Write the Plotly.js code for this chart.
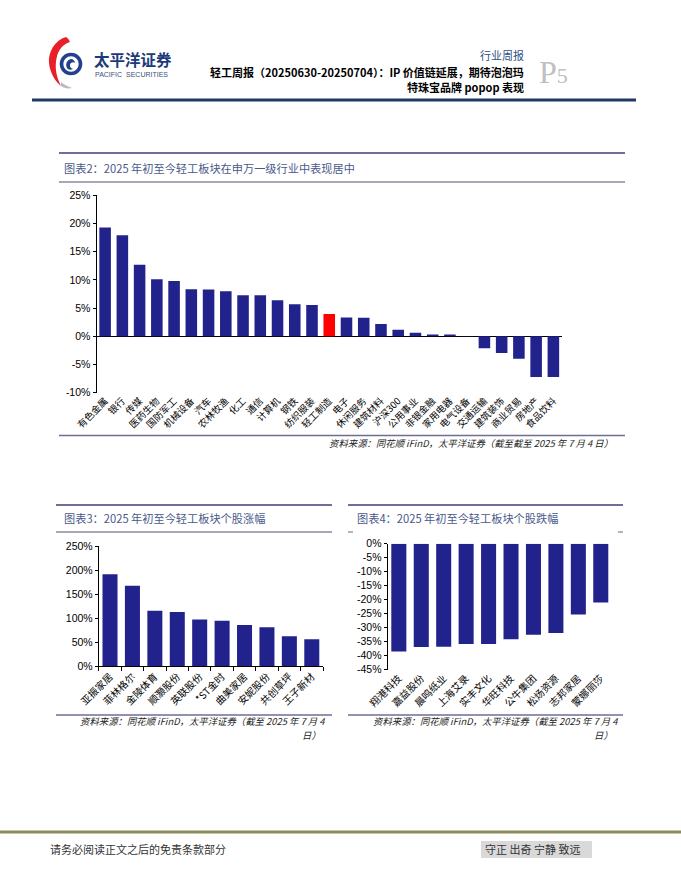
<!DOCTYPE html>
<html><head><meta charset="utf-8">
<script src="https://cdn.plot.ly/plotly-3.0.1.min.js"></script>
<style>html,body{margin:0;padding:0;background:#fff;}#c{width:681px;height:881px;}</style>
</head><body><div id="c"></div>
<script>
// ---------- data ----------
const industryNames = ['有色金属','银行','传媒','医药生物','国防军工','机械设备','汽车','农林牧渔','化工','通信','计算机','钢铁','纺织服装','轻工制造','电子','休闲服务','建筑材料','沪深300','公用事业','非银金融','家用电器','电气设备','交通运输','建筑装饰','商业贸易','房地产','食品饮料'];
const industryReturns = [19.3,17.9,12.7,10.1,9.8,8.35,8.3,8.0,7.3,7.3,6.4,5.7,5.55,3.95,3.35,3.3,2.2,1.15,0.65,0.3,0.3,0.05,-2.1,-2.95,-4.0,-7.2,-7.2];
const highlightName = '轻工制造';

const gainerNames = ['亚振家居','菲林格尔','金陵体育','顺灏股份','英联股份','*ST金时','曲美家居','安妮股份','共创草坪','王子新材'];
const gainerReturns = [191,167,115,112.5,97,94.5,85.5,80.5,62,55.5];

const loserNames = ['翔港科技','嘉益股份','晨鸣纸业','上海艾录','实丰文化','华旺科技','公牛集团','松炀资源','志邦家居','蒙娜丽莎'];
const loserReturns = [-38.5,-36.9,-36.8,-35.8,-35.8,-34.1,-32.5,-31.9,-25.3,-21.0];

const yTicks1 = [-10,-5,0,5,10,15,20,25];
const yTicks2 = [0,50,100,150,200,250];
const yTicks3 = [-45,-40,-35,-30,-25,-20,-15,-10,-5,0];

// ---------- helpers ----------
const W = 681, H = 881;
const px = x => x / W;
const py = y => 1 - y / H;
const BAR = '#22228c';
const CJK = '"Noto Sans CJK SC", "Noto Sans", sans-serif';
const ARIAL = '"Liberation Sans", Arial, sans-serif';

function hline(x0, x1, y, color, w) {
  return {type:'line', xref:'paper', yref:'paper', x0:px(x0), x1:px(x1), y0:py(y), y1:py(y), line:{color:color, width:w}};
}
function txt(x, y, text, opt) {
  opt = opt || {};
  return {xref:'paper', yref:'paper', x:px(x), y:py(y), text:text, showarrow:false,
    xanchor:opt.xa || 'left', yanchor:'middle',
    font:{family:opt.family || CJK, size:opt.size || 11, color:opt.color || '#000', weight:opt.weight || 'normal', style:opt.style || 'normal'}};
}
function pathStr(cmds) {
  let out = [];
  for (const c of cmds) {
    const pts = [];
    for (let i = 1; i < c.length; i += 2) pts.push(px(c[i]).toFixed(5) + ',' + py(c[i+1]).toFixed(5));
    out.push(c[0] + pts.join(' '));
  }
  return out.join(' ');
}

// ---------- traces ----------
const colors1 = industryNames.map(n => n === highlightName ? '#ff0000' : BAR);
const traces = [
  {type:'bar', x:industryNames, y:industryReturns, marker:{color:colors1, line:{width:0}}, xaxis:'x', yaxis:'y', hoverinfo:'skip'},
  {type:'bar', x:gainerNames, y:gainerReturns, marker:{color:BAR, line:{width:0}}, xaxis:'x2', yaxis:'y2', hoverinfo:'skip'},
  {type:'bar', x:loserNames, y:loserReturns, marker:{color:BAR, line:{width:0}}, xaxis:'x3', yaxis:'y3', hoverinfo:'skip'}
];

const catFont = s => ({family:CJK, size:s, color:'#000'});
const numFont = {family:ARIAL, size:10.5, color:'#000'};

const layout = {
  width:W, height:H, margin:{l:0,r:0,t:0,b:0}, paper_bgcolor:'#fff', plot_bgcolor:'rgba(0,0,0,0)',
  showlegend:false, bargap:0.33,
  // chart 1
  xaxis:{domain:[px(96.5), px(562)], anchor:'y', type:'category', range:[-0.5, industryNames.length-0.5],
    tickangle:-45, tickfont:catFont(9.5), showline:false, ticks:'', showgrid:false, zeroline:false, fixedrange:true},
  yaxis:{domain:[py(392.7), py(195.3)], anchor:'x', range:[-10,25], tickvals:yTicks1, ticktext:yTicks1.map(v=>v+'%'),
    tickfont:numFont, showline:true, linecolor:'#000', linewidth:1, ticks:'outside', ticklen:3, tickcolor:'#000',
    showgrid:false, zeroline:true, zerolinecolor:'#000', zerolinewidth:1, fixedrange:true},
  xaxis4:{overlaying:'x', anchor:'free', position:py(336), range:[-0.5, industryNames.length-0.5],
    tickvals:industryNames.map((_,i)=>i-0.5).concat([industryNames.length-0.5]), showticklabels:false,
    ticks:'inside', ticklen:3, tickcolor:'#000', showline:false, showgrid:false, zeroline:false, fixedrange:true},
  // chart 3
  xaxis2:{domain:[px(98.8), px(323)], anchor:'y2', type:'category', range:[-0.5, gainerNames.length-0.5],
    tickangle:-45, tickfont:catFont(10), showline:true, linecolor:'#000', linewidth:1,
    ticks:'outside', tickson:'boundaries', ticklen:4, tickcolor:'#000', showgrid:false, zeroline:false, fixedrange:true},
  yaxis2:{domain:[py(666), py(546)], anchor:'x2', range:[0,250], tickvals:yTicks2, ticktext:yTicks2.map(v=>v+'%'),
    tickfont:numFont, showline:true, linecolor:'#000', linewidth:1, ticks:'outside', ticklen:3, tickcolor:'#000',
    showgrid:false, zeroline:false, fixedrange:true},
  // chart 4
  xaxis3:{domain:[px(387.6), px(612)], anchor:'y3', type:'category', range:[-0.5, loserNames.length-0.5],
    tickangle:-45, tickfont:catFont(10), showline:false, ticks:'', showgrid:false, zeroline:false, fixedrange:true},
  xaxis5:{overlaying:'x3', anchor:'y3', side:'top', range:[-0.5, loserNames.length-0.5],
    tickvals:loserNames.map((_,i)=>i-0.5).concat([loserNames.length-0.5]), showticklabels:false,
    showline:true, linecolor:'#000', linewidth:1, ticks:'outside', ticklen:4, tickcolor:'#000', showgrid:false, zeroline:false, fixedrange:true},
  yaxis3:{domain:[py(669.7), py(543.7)], anchor:'x3', range:[-45,0], tickvals:yTicks3, ticktext:yTicks3.map(v=>v+'%'),
    tickfont:numFont, showline:true, linecolor:'#000', linewidth:1, ticks:'outside', ticklen:3, tickcolor:'#000',
    showgrid:false, zeroline:false, fixedrange:true},
  shapes:[],
  annotations:[]
};

const S = layout.shapes, A = layout.annotations;
// header
S.push(hline(32, 636, 100, '#1f3864', 3.2));
// logo
S.push({type:'path', xref:'paper', yref:'paper', fillcolor:'#e8202a', line:{width:0},
  path: pathStr([['M',66,37],['C',55,40,48,52,49,63],['C',50,73,55,81,61,86],['C',57,78,55,70,56,62],['C',57,52,61,45,70,42],['C',69,40,68,38,66,37],['Z']])});
S.push({type:'path', xref:'paper', yref:'paper', fillcolor:'#b9b9c4', line:{width:0},
  path: pathStr([['M',61,86],['C',64,88,68,89,72,88],['C',67,86,63,84,61,82],['Z']])});
S.push({type:'circle', xref:'paper', yref:'paper', x0:px(61.5), x1:px(80.5), y0:py(73.5), y1:py(54.5), line:{color:'#23408e', width:3.6}, fillcolor:'rgba(0,0,0,0)'});
S.push({type:'path', xref:'paper', yref:'paper', fillcolor:'#23408e', line:{width:0},
  path: pathStr([['M',71,59],['C',67,60,65,64,67,68],['C',68,70,71,70,73,69],['C',70,68,69,65,71,63],['C',72,62,74,62,75,63],['C',75,61,73,59,71,59],['Z']])});
A.push(txt(92, 59.5, '太平洋证券', {size:15.5, weight:'bold', color:'#1c3a78'}));
A.push(txt(93, 75, 'PACIFIC  SECURITIES', {size:7, family:ARIAL, color:'#3a4f7a'}));
A.push(txt(526, 55, '行业周报', {xa:'right', size:11, color:'#2f4f7f'}));
A.push(txt(526, 72, '轻工周报（20250630-20250704）：IP 价值链延展，期待泡泡玛', {xa:'right', size:11, weight:'bold'}));
A.push(txt(526, 87, '特珠宝品牌 popop 表现', {xa:'right', size:11, weight:'bold'}));
A.push(txt(537, 72, 'P<span style="font-size:22px">5</span>', {family:'"Liberation Serif", "DejaVu Serif", serif', size:32, color:'#c0c0c0'}));

// chart 1 panel
S.push(hline(59, 625, 153, '#6e6e96', 2));
A.push(txt(62, 168, '图表2：2025 年初至今轻工板块在申万一级行业中表现居中', {size:11.2, color:'#4a5a8a'}));
S.push(hline(59, 625, 182, '#8a8aa0', 1.3));
S.push(hline(59, 625, 435.5, '#6e6e96', 1.5));
A.push(txt(615, 443, '资料来源：同花顺 iFinD，太平洋证券（截至截至 2025 年 7 月 4 日）', {xa:'right', size:9.4, style:'italic', color:'#222'}));

// chart 3 panel
S.push(hline(56, 332, 505, '#6e6e96', 2));
A.push(txt(62, 518, '图表3：2025 年初至今轻工板块个股涨幅', {size:11.2, color:'#4a5a8a'}));
S.push(hline(56, 332, 532, '#8a8aa0', 1.3));
S.push(hline(56, 332, 715, '#6e6e96', 1.5));
A.push(txt(327, 721, '资料来源：同花顺 iFinD，太平洋证券（截至 2025 年 7 月 4', {xa:'right', size:9.4, style:'italic', color:'#222'}));
A.push(txt(323, 735, '日）', {xa:'right', size:9.4, style:'italic', color:'#222'}));

// chart 4 panel
S.push(hline(348, 623, 505, '#6e6e96', 2));
A.push(txt(355, 518, '图表4：2025 年初至今轻工板块个股跌幅', {size:11.2, color:'#4a5a8a'}));
S.push(hline(348, 353, 532, '#8a8aa0', 1.3));
S.push(hline(618, 623, 532, '#8a8aa0', 1.3));
S.push(hline(348, 623, 715, '#6e6e96', 1.5));
A.push(txt(620, 721, '资料来源：同花顺 iFinD，太平洋证券（截至 2025 年 7 月 4', {xa:'right', size:9.4, style:'italic', color:'#222'}));
A.push(txt(615, 735, '日）', {xa:'right', size:9.4, style:'italic', color:'#222'}));

// footer
S.push(hline(0, 681, 832, '#8c8a5a', 3));
S.push({type:'rect', xref:'paper', yref:'paper', x0:px(481), x1:px(592), y0:py(858), y1:py(841), fillcolor:'#d9d9d9', line:{width:0}, layer:'below'});
A.push(txt(48, 849, '请务必阅读正文之后的免责条款部分', {size:11, color:'#333'}));
A.push(txt(483, 849, '守正 出奇 宁静 致远', {size:11, color:'#333'}));

Plotly.newPlot('c', traces, layout, {staticPlot:true, displayModeBar:false});
</script></body></html>
